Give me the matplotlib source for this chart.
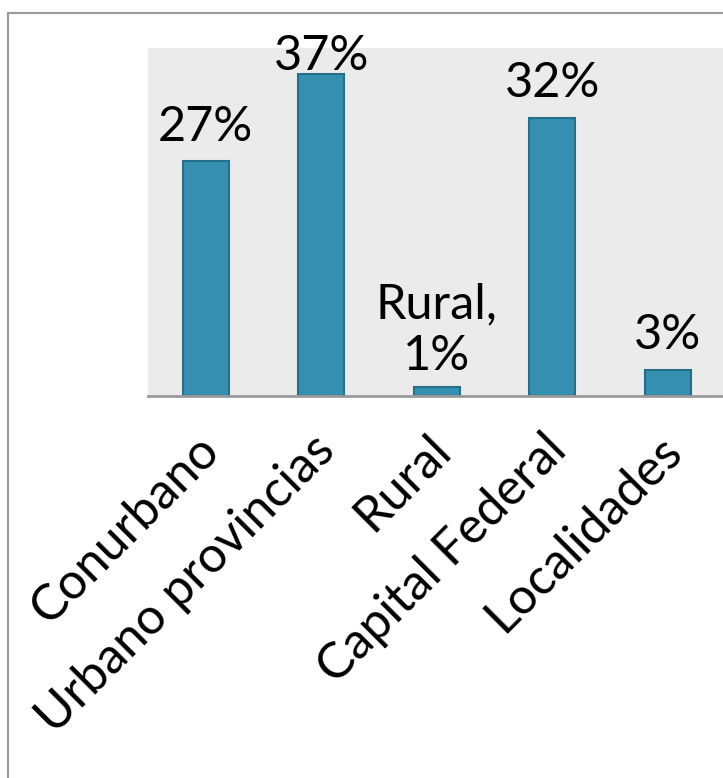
import matplotlib
matplotlib.use("Agg")
import matplotlib.pyplot as plt
from matplotlib.patches import Rectangle
from matplotlib.transforms import ScaledTranslation

categories = ["Conurbano", "Urbano provincias", "Rural", "Capital Federal", "Localidades"]
values = [27, 37, 1, 32, 3]
labels = ["27%", "37%", "Rural,\n1%", "32%", "3%"]
label_offsets = [9, -2.5, 7, 9, 9]  # points above bar top (37% label pushed down inside chart)

plt.rcParams['font.family'] = ['Lato', 'DejaVu Sans']

W, H = 723, 778
fig = plt.figure(figsize=(W / 100, H / 100), dpi=100)

# outer frame (left/top visible)
fig.patches.append(Rectangle((8 / W, -0.1), 1.2, 1 - 13 / H + 0.1, transform=fig.transFigure,
                             fill=False, edgecolor="#9a9a9a", linewidth=1.5, zorder=0))

left, right = 148 / W, 725.5 / W
bottom, top = 1 - 396 / H, 1 - 48 / H
ax = fig.add_axes([left, bottom, right - left, top - bottom])
ax.set_facecolor("#ebebeb")

x = list(range(len(categories)))
bars = ax.bar(x, values, width=0.4, color="#348fb0", edgecolor="#256f8a", linewidth=1.5, zorder=3)
ax.set_xlim(-0.5, len(categories) - 0.5)
ax.set_ylim(0, 40)

for xi, v, lab, off in zip(x, values, labels, label_offsets):
    ax.annotate(lab, (xi, v), xytext=(0, off), textcoords="offset points",
                ha="center", va="bottom", fontsize=35, color="black", linespacing=1.2,
                annotation_clip=False, zorder=5)

for s in ["left", "right", "top"]:
    ax.spines[s].set_visible(False)
ax.spines["bottom"].set_color("#9a9a9a")
ax.spines["bottom"].set_linewidth(2)
ax.spines["bottom"].set_zorder(4)
ax.set_yticks([])
ax.set_xticks(x)
ax.set_xticklabels(categories, rotation=45, ha="right", va="top", rotation_mode="anchor",
                   fontsize=36)
ax.tick_params(axis="x", length=0, pad=22)
shift = ScaledTranslation(-10 / 100, 0, fig.dpi_scale_trans)
for t in ax.get_xticklabels():
    t.set_transform(t.get_transform() + shift)

fig.savefig("out.png", dpi=100)
